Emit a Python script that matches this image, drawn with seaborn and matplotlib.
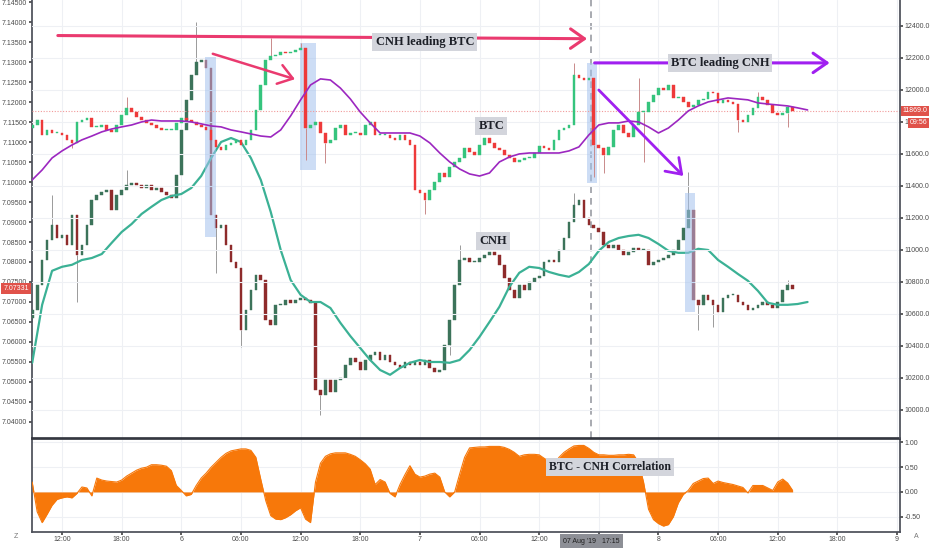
import numpy as np
import matplotlib
matplotlib.use('Agg')
import matplotlib.pyplot as plt
from matplotlib.patches import Rectangle
import seaborn as sns

sns.set_theme(style='white')
plt.rcParams['font.family'] = ['Liberation Sans', 'DejaVu Sans']

# time axis: hours since 5 Aug 2019 00:00, 30 minute bars from 09:00
bar_start = 9.0
bar_step = 0.5
ma_start = 9.0
ma_step = 1.0

btc_first_open = 11760
btc_close = [
    11781, 11812, 11719, 11750, 11731, 11731, 11719, 11688, 11669, 11800,
    11812, 11825, 11769, 11769, 11781, 11750, 11738, 11781, 11844, 11888,
    11862, 11831, 11812, 11794, 11781, 11762, 11750, 11750, 11750, 11794,
    11825, 11812, 11800, 11781, 11769, 11750, 11688, 11644, 11625, 11656,
    11669, 11688, 11656, 11688, 11750, 11875, 12031, 12188, 12212, 12219,
    12238, 12231, 12238, 12250, 12262, 11762, 11781, 11800, 11731, 11669,
    11688, 11762, 11781, 11719, 11731, 11731, 11719, 11781, 11800, 11719,
    11719, 11719, 11700, 11688, 11719, 11688, 11656, 11375, 11356, 11312,
    11375, 11425, 11481, 11456, 11519, 11550, 11575, 11638, 11612, 11594,
    11656, 11700, 11669, 11638, 11625, 11594, 11575, 11550, 11562, 11575,
    11575, 11606, 11650, 11638, 11625, 11688, 11750, 11762, 11781, 12094,
    12075, 12062, 12075, 11656, 11638, 11594, 11644, 11750, 11781, 11731,
    11706, 11781, 11862, 11862, 11925, 11969, 12012, 12000, 12031, 11950,
    11956, 11925, 11894, 11906, 11938, 11944, 11988, 11981, 11919, 11938,
    11925, 11912, 11812, 11800, 11844, 11888, 11956, 11938, 11906, 11856,
    11844, 11856, 11894, 11869,
]
btc_hi_idx = [19, 48, 54, 109, 122, 146]
btc_hi_val = [11956, 12325, 12294, 12169, 12075, 11990]
btc_lo_idx = [8, 55, 59, 79, 113, 115, 123, 142, 152]
btc_lo_val = [11638, 11562, 11544, 11225, 11456, 11481, 11550, 11738, 11769]

cnh_first_open = 7.0660
cnh_close = [
    7.0680, 7.0743, 7.0805, 7.0855, 7.0893, 7.0860, 7.0868, 7.0843, 7.0918, 7.0818,
    7.0843, 7.0893, 7.0955, 7.0968, 7.0975, 7.0980, 7.0930, 7.0968, 7.0980, 7.0993,
    7.0998, 7.0993, 7.0985, 7.0993, 7.0980, 7.0985, 7.0975, 7.0968, 7.0960, 7.1018,
    7.1130, 7.1205, 7.1268, 7.1300, 7.1305, 7.1285, 7.0918, 7.0885, 7.0893, 7.0843,
    7.0800, 7.0785, 7.0630, 7.0680, 7.0730, 7.0768, 7.0755, 7.0655, 7.0643, 7.0693,
    7.0693, 7.0705, 7.0698, 7.0705, 7.0710, 7.0705, 7.0698, 7.0480, 7.0468, 7.0505,
    7.0475, 7.0505, 7.0510, 7.0543, 7.0560, 7.0550, 7.0530, 7.0555, 7.0568, 7.0575,
    7.0555, 7.0568, 7.0550, 7.0543, 7.0535, 7.0550, 7.0543, 7.0550, 7.0543, 7.0555,
    7.0535, 7.0525, 7.0530, 7.0593, 7.0655, 7.0743, 7.0805, 7.0810, 7.0800, 7.0800,
    7.0810, 7.0818, 7.0825, 7.0818, 7.0793, 7.0760, 7.0730, 7.0710, 7.0743, 7.0730,
    7.0750, 7.0760, 7.0765, 7.0800, 7.0805, 7.0800, 7.0830, 7.0860, 7.0900, 7.0943,
    7.0955, 7.0910, 7.0893, 7.0885, 7.0875, 7.0843, 7.0835, 7.0843, 7.0830, 7.0818,
    7.0825, 7.0835, 7.0830, 7.0830, 7.0793, 7.0800, 7.0805, 7.0810, 7.0818, 7.0830,
    7.0855, 7.0885, 7.0930, 7.0705, 7.0693, 7.0718, 7.0705, 7.0693, 7.0675, 7.0710,
    7.0718, 7.0718, 7.0700, 7.0693, 7.0680, 7.0685, 7.0693, 7.0700, 7.0693, 7.0685,
    7.0700, 7.0730, 7.0743, 7.0733,
]
cnh_hi_idx = [4, 19, 33, 86, 109, 132, 152]
cnh_hi_val = [7.0968, 7.1030, 7.1400, 7.0843, 7.0973, 7.1025, 7.0755]
cnh_lo_idx = [0, 9, 37, 42, 58, 84, 134, 137]
cnh_lo_val = [7.0650, 7.0700, 7.0773, 7.0588, 7.0418, 7.0568, 7.0630, 7.0638]

btc_ma = [
    11438, 11500, 11575, 11619, 11656, 11688, 11712, 11738, 11756, 11769,
    11781, 11800, 11812, 11806, 11806, 11806, 11800, 11788, 11775, 11769,
    11750, 11738, 11725, 11712, 11706, 11750, 11838, 11938, 12031, 12069,
    12062, 12012, 11944, 11862, 11794, 11731, 11731, 11731, 11731, 11712,
    11669, 11606, 11550, 11506, 11475, 11462, 11481, 11550, 11581, 11600,
    11606, 11606, 11606, 11606, 11619, 11644, 11719, 11781, 11794, 11794,
    11806, 11800, 11769, 11731, 11762, 11812, 11869, 11900, 11925, 11938,
    11950, 11944, 11938, 11919, 11912, 11906, 11900, 11888, 11875,
]
cnh_ma = [
    7.0548, 7.0693, 7.0778, 7.0788, 7.0793, 7.0805, 7.0810, 7.0820, 7.0848, 7.0875,
    7.0895, 7.0920, 7.0938, 7.0955, 7.0965, 7.0970, 7.0985, 7.1015, 7.1060, 7.1100,
    7.1110, 7.1100, 7.1060, 7.1005, 7.0925, 7.0830, 7.0755, 7.0718, 7.0700, 7.0700,
    7.0685, 7.0648, 7.0615, 7.0585, 7.0555, 7.0530, 7.0518, 7.0535, 7.0548, 7.0555,
    7.0550, 7.0550, 7.0548, 7.0555, 7.0580, 7.0613, 7.0650, 7.0688, 7.0738, 7.0773,
    7.0788, 7.0785, 7.0775, 7.0768, 7.0763, 7.0775, 7.0795, 7.0828, 7.0850, 7.0860,
    7.0865, 7.0868, 7.0860, 7.0845, 7.0828, 7.0823, 7.0823, 7.0833, 7.0830, 7.0805,
    7.0788, 7.0770, 7.0753, 7.0728, 7.0698, 7.0693, 7.0693, 7.0695, 7.0700,
]

corr = [
    0.20, -0.40, -0.62, -0.45, -0.27, -0.15, -0.12, -0.10, -0.12, -0.03,
    0.10, 0.08, -0.08, 0.28, 0.24, 0.22, 0.21, 0.20, 0.24, 0.32,
    0.38, 0.44, 0.48, 0.50, 0.55, 0.55, 0.54, 0.52, 0.43, 0.13,
    0.03, -0.08, -0.05, 0.13, 0.28, 0.38, 0.50, 0.60, 0.70, 0.78,
    0.83, 0.85, 0.87, 0.87, 0.84, 0.70, 0.25, -0.18, -0.48, -0.55,
    -0.56, -0.52, -0.46, -0.38, -0.32, -0.55, -0.62, 0.20, 0.58, 0.72,
    0.77, 0.79, 0.79, 0.79, 0.76, 0.72, 0.65, 0.57, 0.46, 0.15,
    0.25, 0.20, -0.03, -0.10, 0.15, 0.35, 0.53, 0.36, 0.30, 0.32,
    0.36, 0.38, 0.30, 0.00, -0.10, 0.00, 0.36, 0.70, 0.89, 0.90,
    0.91, 0.91, 0.92, 0.92, 0.92, 0.90, 0.86, 0.80, 0.72, 0.75,
    0.76, 0.76, 0.75, 0.68, 0.62, 0.56, 0.70, 0.80, 0.87, 0.93,
    0.94, 0.94, 0.88, 0.80, 0.75, 0.75, 0.74, 0.74, 0.75, 0.75,
    0.76, 0.75, 0.60, 0.20, -0.35, -0.56, -0.64, -0.69, -0.66, -0.50,
    -0.22, -0.05, 0.03, 0.17, 0.22, 0.27, 0.28, 0.17, 0.22, 0.19,
    0.17, 0.15, 0.12, 0.09, -0.02, 0.13, 0.13, 0.13, 0.08, 0.03,
    0.20, 0.26, 0.18, 0.03,
]

tick_hours = [12, 18, 24, 30, 36, 42, 48, 54, 60, 66, 72, 78, 84, 90, 96]
tick_labels = ['12:00', '18:00', '6', '06:00', '12:00', '18:00', '7', '06:00',
               '12:00', '', '8', '06:00', '12:00', '18:00', '9']
cursor_hour = 65.25
cursor_label = "07 Aug '19   17:15"
btc_last = 11869.0
cnh_last = 7.07331

t_bar = bar_start + bar_step * np.arange(len(btc_close))
t_ma = ma_start + ma_step * np.arange(len(btc_ma))

AXIS_COL = '#4c4f59'
TXT_COL = '#4a4a4a'
GRID_COL = '#eef0f4'


def draw_candles(ax, first_open, closes, up, down, min_h, hi_idx, hi_val, lo_idx, lo_val, wick_col):
    closes = np.asarray(closes, dtype=float)
    opens = np.concatenate([[first_open], closes[:-1]])
    low_body = np.minimum(opens, closes)
    high_body = np.maximum(opens, closes)
    heights = np.maximum(high_body - low_body, min_h)
    cols = [up if c >= o else down for o, c in zip(opens, closes)]
    ax.vlines(t_bar[hi_idx], high_body[hi_idx], hi_val, color=wick_col, lw=0.7, zorder=2)
    ax.vlines(t_bar[lo_idx], lo_val, low_body[lo_idx], color=wick_col, lw=0.7, zorder=2)
    ax.bar(t_bar, heights, bottom=low_body, width=0.27, color=cols,
           edgecolor=cols, linewidth=0.3, zorder=3)


fig = plt.figure(figsize=(9.32, 5.5), dpi=100)
fig.patch.set_facecolor('white')
ax = fig.add_axes([32 / 932, 1 - 438 / 550, 868 / 932, 438 / 550])
axc = fig.add_axes([32 / 932, 1 - 532 / 550, 868 / 932, 93 / 550], sharex=ax)
ax2 = ax.twinx()

# --- price panel ---
ax.set_xlim(8.98, 96.3)
ax.set_ylim(7.036, 7.1455)
ax2.set_ylim(9825, 12562)

ax.set_xticks(tick_hours)
ax.grid(axis='x', color=GRID_COL, lw=0.8)
ax.grid(axis='y', visible=False)
ax2.set_yticks(np.arange(10000, 12401, 200))
ax2.grid(axis='y', color=GRID_COL, lw=0.8)
ax2.grid(axis='x', visible=False)

draw_candles(ax, cnh_first_open, cnh_close, '#3c735a', '#8e2b2b', 0.00025,
             cnh_hi_idx, cnh_hi_val, cnh_lo_idx, cnh_lo_val, '#9a9a9a')
sns.lineplot(x=t_ma, y=cnh_ma, ax=ax, color='#3bb195', lw=1.6, zorder=4)

draw_candles(ax2, btc_first_open, btc_close, '#35c47d', '#ee3a3a', 6,
             btc_hi_idx, btc_hi_val, btc_lo_idx, btc_lo_val, '#c98a8a')
sns.lineplot(x=t_ma, y=btc_ma, ax=ax2, color='#9c27c0', lw=1.2, zorder=4)

# highlight boxes around the lead moves
for x0, x1, y0, y1 in [(26.4, 27.5, 11081, 12206), (35.9, 37.5, 11500, 12294),
                       (64.8, 65.8, 11419, 12169), (74.7, 75.7, 10612, 11356)]:
    ax2.add_patch(Rectangle((x0, y0), x1 - x0, y1 - y0, fc='#a4c2ee', ec='none',
                            alpha=0.55, zorder=1))

# last price line and cursor
ax2.axhline(btc_last, color='#f19a9a', lw=0.8, ls=(0, (1, 1.5)), zorder=2)
ax.axvline(cursor_hour, color='#9a9ca3', lw=1.2, ls=(0, (4, 3)), zorder=2)

# arrows
head = '->,head_length=0.5,head_width=0.35'
ax2.annotate('', xy=(65.1, 12320), xytext=(11.3, 12340),
             arrowprops=dict(arrowstyle=head, color='#ea3a6f', lw=2.2, mutation_scale=20), zorder=6)
ax2.annotate('', xy=(35.7, 12062), xytext=(26.9, 12231),
             arrowprops=dict(arrowstyle=head, color='#ea3a6f', lw=1.8, mutation_scale=20), zorder=6)
ax2.annotate('', xy=(89.5, 12169), xytext=(65.3, 12169),
             arrowprops=dict(arrowstyle=head, color='#a020f0', lw=2.2, mutation_scale=20), zorder=6)
ax2.annotate('', xy=(74.7, 11450), xytext=(65.8, 12012),
             arrowprops=dict(arrowstyle=head, color='#a020f0', lw=2.0, mutation_scale=20), zorder=6)

box = dict(boxstyle='square,pad=0.25', fc='#d3d5dc', ec='none')
label_kw = dict(ha='center', va='center', fontsize=9, fontweight='bold',
                family='Liberation Serif', color='#1c1f27', bbox=box, zorder=7)
ax2.text(48.5, 12300, 'CNH leading BTC', **label_kw)
ax2.text(78.2, 12169, 'BTC leading CNH', **label_kw)
ax2.text(55.2, 11775, 'BTC', **label_kw)
ax2.text(55.4, 11056, 'CNH', **label_kw)

# axes styling
for a in (ax, ax2):
    for s in a.spines.values():
        s.set_visible(False)
ax.spines['left'].set_visible(True)
ax.spines['left'].set_color(AXIS_COL)
ax2.spines['right'].set_visible(True)
ax2.spines['right'].set_color(AXIS_COL)
ax.spines['bottom'].set_visible(True)
ax.spines['bottom'].set_color('#2f323b')
ax.spines['bottom'].set_linewidth(1.2)

ax.set_yticks(np.arange(7.040, 7.1451, 0.005))
ax.yaxis.set_major_formatter(matplotlib.ticker.FormatStrFormatter('%.5f'))
ax2.yaxis.set_major_formatter(matplotlib.ticker.FormatStrFormatter('%.1f'))
ax.tick_params(axis='y', labelsize=5, colors=TXT_COL, length=2, pad=1.5, left=True)
ax2.tick_params(axis='y', labelsize=5, colors=TXT_COL, length=2, pad=1.5, right=True)
ax.tick_params(axis='x', bottom=False, labelbottom=False)
ax.set_ylabel('')
ax2.set_ylabel('')

# price tags
tag = dict(fontsize=5, color='white', va='center', zorder=10)
ax.annotate(f'{cnh_last:.5f}', xy=(0, cnh_last), xycoords=('axes fraction', 'data'),
            xytext=(-11.5, 0), textcoords='offset points', ha='center',
            bbox=dict(boxstyle='square,pad=0.3', fc='#e0524a', ec='none'),
            annotation_clip=False, **tag)
ax2.annotate(f'{btc_last:.1f}', xy=(1, btc_last), xycoords=('axes fraction', 'data'),
             xytext=(2, 0), textcoords='offset points', ha='left',
             bbox=dict(boxstyle='square,pad=0.2', fc='#e0524a', ec='none'),
             annotation_clip=False, **tag)
ax2.annotate('09:56', xy=(1, btc_last), xycoords=('axes fraction', 'data'),
             xytext=(7, -8.5), textcoords='offset points', ha='left',
             bbox=dict(boxstyle='square,pad=0.2', fc='#e0524a', ec='none'),
             annotation_clip=False, **tag)

# --- correlation panel ---
axc.set_ylim(-0.81, 1.07)
axc.fill_between(t_bar, 0, corr, color='#f7780a', lw=0, zorder=3)
sns.lineplot(x=t_bar, y=corr, ax=axc, color='#f7780a', lw=0.8, zorder=3)
axc.set_yticks([1.0, 0.5, 0.0, -0.5])
axc.set_yticklabels(['1.00', '0.50', '0.00', '-0.50'])
axc.yaxis.tick_right()
axc.grid(axis='both', color=GRID_COL, lw=0.8)
axc.set_axisbelow(True)
axc.set_xticks(tick_hours)
axc.set_xticklabels(tick_labels)
axc.tick_params(axis='y', labelsize=5, colors=TXT_COL, length=2, pad=1.5, right=True, left=False)
axc.tick_params(axis='x', labelsize=5, colors=TXT_COL, length=2, pad=1, bottom=True)
for name, s in axc.spines.items():
    s.set_color(AXIS_COL)
axc.spines['top'].set_color('#2f323b')
axc.spines['top'].set_linewidth(1.2)
axc.set_ylabel('')

axc.text(67.1, 0.5, 'BTC - CNH Correlation', ha='center', va='center', fontsize=8.5,
         fontweight='bold', family='Liberation Serif', color='#1c1f27',
         bbox=box, zorder=7)
axc.annotate(cursor_label, xy=(cursor_hour, 0), xycoords=('data', 'axes fraction'),
             xytext=(0, -6.5), textcoords='offset points', ha='center', va='center',
             fontsize=5, color='#1e1e1e',
             bbox=dict(boxstyle='square,pad=0.45', fc='#8d8f96', ec='none'),
             annotation_clip=False)

fig.text(16 / 932, 1 - 537 / 550, 'Z', fontsize=5, color='#777777', ha='center', va='center')
fig.text(916 / 932, 1 - 537 / 550, 'A', fontsize=5, color='#777777', ha='center', va='center')

fig.savefig('out.png', dpi=100)
